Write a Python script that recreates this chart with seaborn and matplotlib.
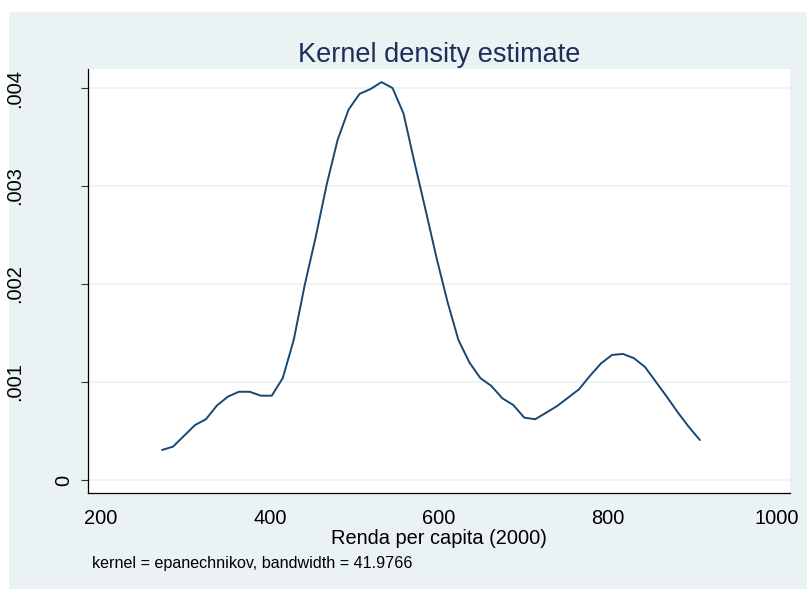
import matplotlib
matplotlib.use("Agg")
import matplotlib.pyplot as plt
from matplotlib.patches import Rectangle
import seaborn as sns
import pandas as pd

# Evaluation points of the density estimate (income per capita, 2000)
renda = [272.2, 285.2, 298.2, 311.2, 324.2, 337.2, 350.1, 363.1, 376.1, 389.1,
         402.1, 415.1, 428.1, 441.1, 454.1, 467.1, 480.0, 493.0, 506.0, 519.0,
         532.0, 545.0, 558.0, 571.0, 584.0, 597.0, 610.0, 622.9, 635.9, 648.9,
         661.9, 674.9, 687.9, 700.9, 713.9, 726.9, 739.9, 752.8, 765.8, 778.8,
         791.8, 804.8, 817.8, 830.8, 843.8, 856.8, 869.8, 882.7, 895.7, 908.7]

# Estimated density at each point
densidade = [0.000306, 0.000340, 0.000450, 0.000560, 0.000620, 0.000760, 0.000850, 0.000900, 0.000900, 0.000860,
             0.000860, 0.001040, 0.001430, 0.001990, 0.002480, 0.003015, 0.003470, 0.003780, 0.003940, 0.003990,
             0.004060, 0.004000, 0.003740, 0.003240, 0.002760, 0.002270, 0.001820, 0.001430, 0.001200, 0.001040,
             0.000960, 0.000834, 0.000765, 0.000636, 0.000620, 0.000687, 0.000755, 0.000840, 0.000926, 0.001064,
             0.001190, 0.001276, 0.001286, 0.001242, 0.001153, 0.001000, 0.000847, 0.000689, 0.000541, 0.000408]

x_ticks = [200, 400, 600, 800, 1000]
y_ticks = [0, 0.001, 0.002, 0.003, 0.004]
y_labels = ["0", ".001", ".002", ".003", ".004"]

titulo = "Kernel density estimate"
rotulo_x = "Renda per capita (2000)"
nota = "kernel = epanechnikov, bandwidth = 41.9766"

sns.set_theme(style="white")
plt.rcParams["font.family"] = ["Liberation Sans", "DejaVu Sans"]

W, H = 807, 589
fig = plt.figure(figsize=(W / 100, H / 100), dpi=100)
fig.patch.set_facecolor("white")

# Graph region background
fig.patches.append(Rectangle((9 / W, 0), 1 - 9 / W, (H - 12) / H,
                             transform=fig.transFigure, facecolor="#EAF2F3",
                             edgecolor="none", zorder=-10))

ax = fig.add_axes([88 / W, (H - 492.7) / H, (790 - 88) / W, (492.7 - 69) / H])
ax.set_facecolor("white")

df = pd.DataFrame({"renda": renda, "densidade": densidade})
sns.lineplot(data=df, x="renda", y="densidade", ax=ax, color="#1a476f",
             linewidth=1.4, sort=False, estimator=None)

ax.set_xlim(184.6, 1015.4)
ax.set_ylim(-0.00013, 0.004194)
ax.set_xticks(x_ticks)
ax.set_xticklabels([str(v) for v in x_ticks])
ax.set_yticks(y_ticks)
ax.set_yticklabels([""] * len(y_ticks))

for yv in y_ticks:
    ax.axhline(yv, color="#EAF2F3", linewidth=1.2, zorder=0)

for side in ["top", "right"]:
    ax.spines[side].set_visible(False)
for side in ["left", "bottom"]:
    ax.spines[side].set_color("black")
    ax.spines[side].set_linewidth(0.9)

ax.tick_params(axis="both", which="major", direction="out", length=5,
               width=0.8, color="#333333", labelsize=14.4, labelcolor="black")
ax.tick_params(axis="x", pad=7)
ax.tick_params(axis="y", left=True)

# Vertical y tick labels
from matplotlib.transforms import blended_transform_factory
trans = blended_transform_factory(fig.transFigure, ax.transData)
for yv, lab in zip(y_ticks, y_labels):
    xpix = 64 if lab == "0" else 14.5
    ax.text(xpix / W, yv, lab, transform=trans, rotation=90, ha="center",
            va="center", fontsize=14.4, color="black", clip_on=False)

ax.set_xlabel("")
ax.set_ylabel("")

fig.text(439 / W, (H - 62) / H, titulo, ha="center", va="baseline",
         fontsize=19.5, color="#1c2e5a")
fig.text(439 / W, (H - 544) / H, rotulo_x, ha="center", va="baseline",
         fontsize=14.4, color="black")
fig.text(91.7 / W, (H - 568) / H, nota, ha="left", va="baseline",
         fontsize=11.6, color="black")

fig.savefig("out.png", dpi=100, facecolor=fig.get_facecolor())
